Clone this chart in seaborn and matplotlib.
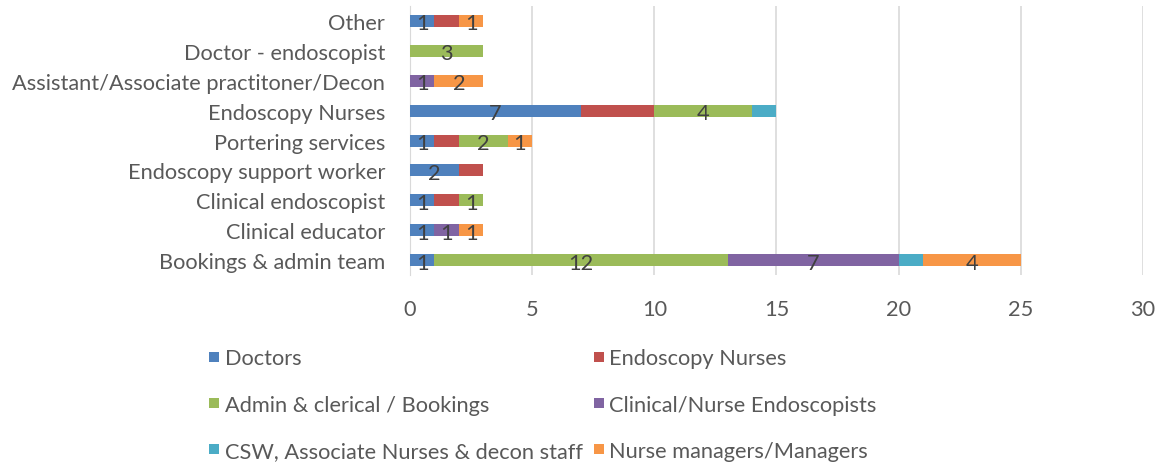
import numpy as np
import pandas as pd
import matplotlib.pyplot as plt
import seaborn as sns
from matplotlib.patches import Patch

# Data (top to bottom as shown)
roles = ["Other", "Doctor - endoscopist", "Assistant/Associate practitoner/Decon",
         "Endoscopy Nurses", "Portering services", "Endoscopy support worker",
         "Clinical endoscopist", "Clinical educator", "Bookings & admin team"]

series_names = ["Doctors", "Endoscopy Nurses", "Admin & clerical / Bookings",
                "Clinical/Nurse Endoscopists", "CSW, Associate Nurses & decon staff",
                "Nurse managers/Managers"]

doctors = [1, 0, 0, 7, 1, 2, 1, 1, 1]
endo_nurses = [1, 0, 0, 3, 1, 1, 1, 0, 0]
admin = [0, 3, 0, 4, 2, 0, 1, 0, 12]
clin_endo = [0, 0, 1, 0, 0, 0, 0, 1, 7]
csw = [0, 0, 0, 1, 0, 0, 0, 0, 1]
managers = [1, 0, 2, 0, 1, 0, 0, 1, 4]

# series without data labels in the original
no_labels = ["Endoscopy Nurses", "CSW, Associate Nurses & decon staff"]

colors = ["#4F81BD", "#C0504D", "#9BBB59", "#8064A2", "#4BACC6", "#F79646"]

df = pd.DataFrame({"role": roles})
for name, vals in zip(series_names, [doctors, endo_nurses, admin, clin_endo, csw, managers]):
    df[name] = vals

# cumulative totals for stacking
cum = df[series_names].cumsum(axis=1)

sns.set_style("white")
plt.rcParams['font.family'] = ['Lato', 'DejaVu Sans']
text_col = "#595959"
fs = 15.7

fig = plt.figure(figsize=(11.62, 4.64), dpi=100)
ax = fig.add_axes([0.3528, 0.405, 0.6308, 0.58])

# draw from the full stack down so each shorter bar covers the previous one
for name, col in reversed(list(zip(series_names, colors))):
    sns.barplot(x=cum[name], y=df["role"], order=roles, color=col,
                width=0.4, ax=ax, saturation=1, orient="h", zorder=3,
                linewidth=0)

# value labels in the middle of each segment
for i, name in enumerate(series_names):
    if name in no_labels:
        continue
    for j, role in enumerate(roles):
        v = df[name].iloc[j]
        if v > 0:
            mid = cum[name].iloc[j] - v / 2
            ax.text(mid, j + 0.08, str(v), ha="center", va="center",
                    fontsize=fs, color="#404040", zorder=5)

ax.set_xlim(0, 30)
ax.set_xticks(np.arange(0, 31, 5))
ax.set_xlabel("")
ax.set_ylabel("")
ax.grid(axis="x", color="#D9D9D9", linewidth=1.2, zorder=0)
ax.set_axisbelow(True)
for s in ["top", "right", "bottom"]:
    ax.spines[s].set_visible(False)
ax.spines["left"].set_color("#D9D9D9")
ax.tick_params(axis="both", length=0, labelsize=fs, colors=text_col)
ax.tick_params(axis="y", pad=18)
ax.tick_params(axis="x", pad=17)

# legend fills row by row like the original: reorder for matplotlib's column fill
order = [0, 2, 4, 1, 3, 5]
handles = [Patch(facecolor=colors[k], edgecolor="none") for k in order]
labels = [series_names[k] for k in order]
fig.legend(handles, labels, ncol=2, loc="upper left",
           bbox_to_anchor=(0.180, 0.247), frameon=False, fontsize=fs,
           handlelength=0.46, handleheight=0.33, handletextpad=0.25,
           columnspacing=0.5, labelspacing=1.2, labelcolor=text_col,
           borderaxespad=0, borderpad=0)

fig.savefig("out.png", dpi=100)
